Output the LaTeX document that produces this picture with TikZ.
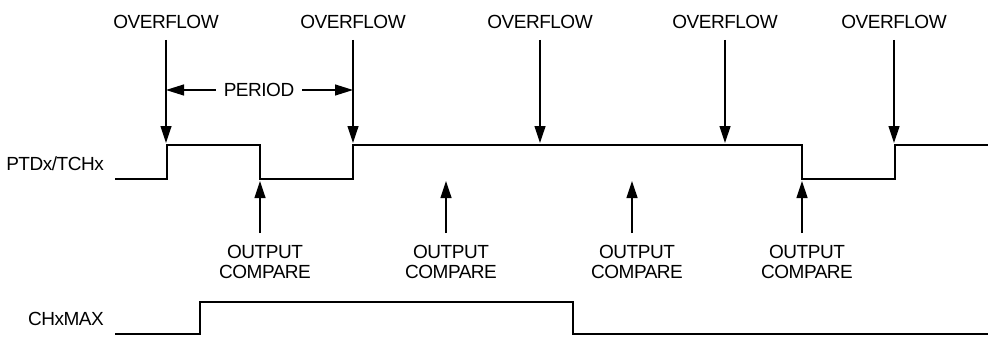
\documentclass[tikz,border=0pt]{standalone}
\usepackage{fontspec}
\setmainfont{Liberation Sans}[LetterSpace=-2.5]
\usetikzlibrary{arrows.meta}
\begin{document}
\begin{tikzpicture}[x=1pt,y=-1pt,
  lbl/.style={inner sep=0pt,font=\fontsize{19}{20}\selectfont},
  wave/.style={line width=2.7pt,line join=miter,line cap=butt},
  arr/.style={line width=1.2pt,-{Triangle[length=17pt,width=11pt]}},
  arrr/.style={line width=1.2pt,-{Triangle[length=18pt,width=11pt]}}]
\useasboundingbox (0,0) rectangle (988,337);
% signal labels
\node[lbl,anchor=east] (ptd) at (104,164) {PTDx/TCHx};
\node[lbl,anchor=east] (chx) at (104,319) {CHxMAX};
% waveform PTDx/TCHx
\draw[wave] (115,179) -- (167,179) -- (167,145) -- (260,145) -- (260,179) -- (353,179) -- (353,145)
  -- (802,145) -- (802,179) -- (895,179) -- (895,145) -- (988,145);
% waveform CHxMAX
\draw[wave] (115,334) -- (200,334) -- (200,302) -- (573,302) -- (573,334) -- (988,334);
% overflow labels and arrows
\foreach \i/\x in {1/166,2/353,3/540,4/725,5/894}{
  \node[lbl] (ov\i) at (\x,22) {OVERFLOW};
  \coordinate (ot\i) at (\x,143);
  \draw[arr] (\x,40) -- (ot\i);
}
% period
\node[lbl] (per) at (259,90) {PERIOD};
\draw[arrr] (per.west) ++(-8,0) -- (ov1 |- per);
\draw[arrr] (per.east) ++(8,0) -- (ov2 |- per);
% output compare labels and arrows
\foreach \i/\x in {1/260,2/446,3/632,4/802}{
  \node[lbl,align=center] (oc\i) at (\x+5,262) {OUTPUT\\COMPARE};
  \coordinate (ct\i) at (\x,181);
  \draw[arr] (\x,233) -- (ct\i);
}
\end{tikzpicture}
\end{document}
